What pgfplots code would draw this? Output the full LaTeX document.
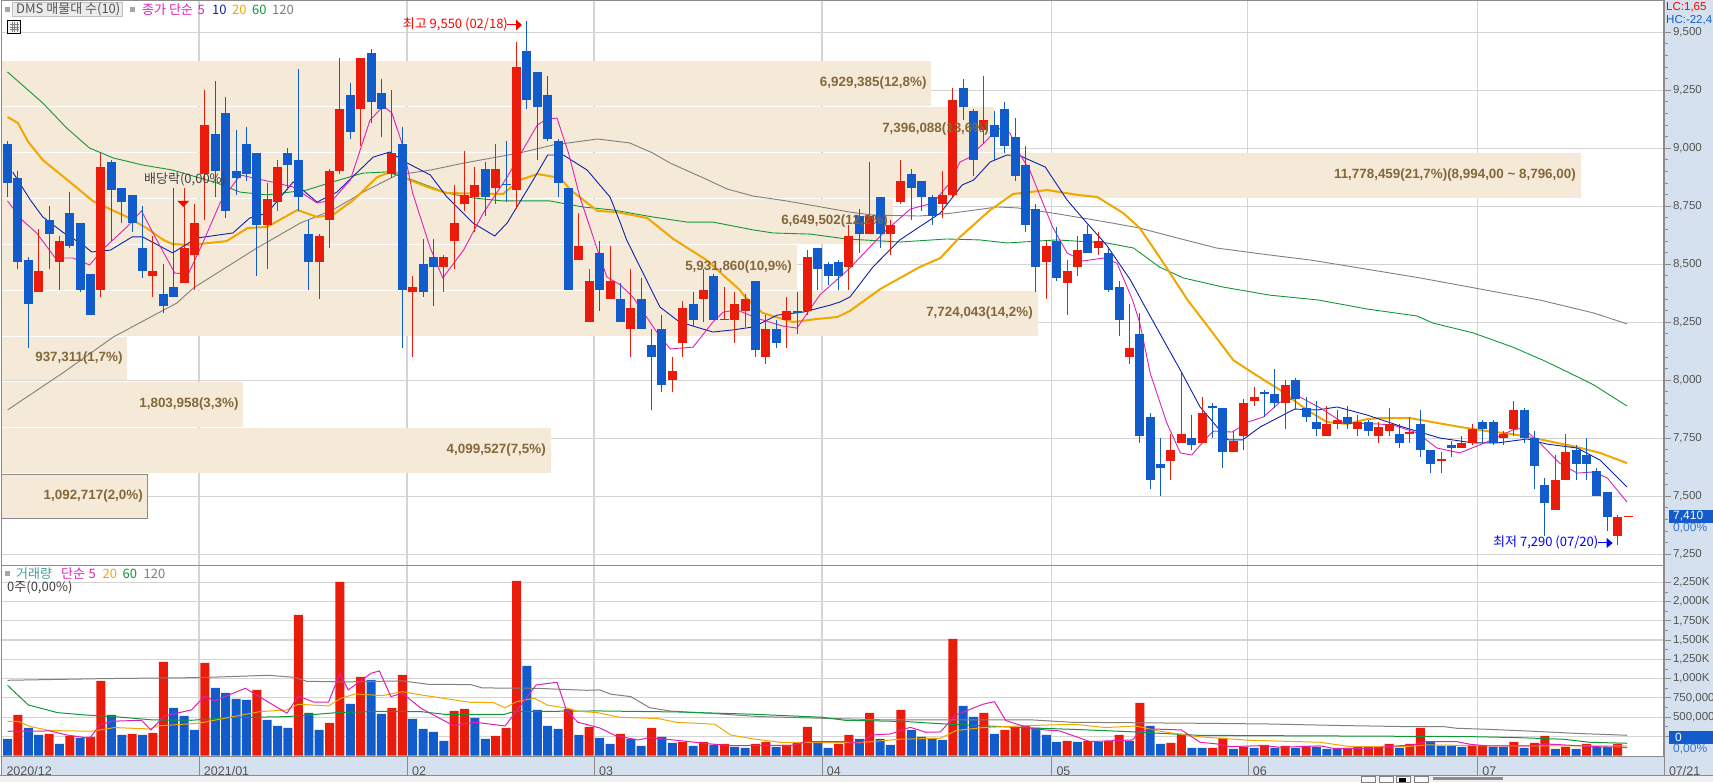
\documentclass[border=0pt]{standalone}
\usepackage{pgfplots}
\pgfplotsset{compat=1.18}
\usepackage{pgfplotstable}
\usepackage{fontspec}
\setmainfont{Liberation Sans}
\newfontfamily\kr{Noto Sans CJK KR}
\definecolor{cred}{HTML}{E91B0A}
\definecolor{cblue}{HTML}{125BCB}
\definecolor{band}{HTML}{F5E9D8}
\definecolor{bandtx}{HTML}{85683A}
\definecolor{gridc}{HTML}{D4D4D4}
\definecolor{panel}{HTML}{D6E1EF}
\definecolor{axisc}{HTML}{8C8C8C}
\definecolor{lbl}{HTML}{555555}
\definecolor{mag}{HTML}{E020B8}
\definecolor{navy}{HTML}{1022A8}
\definecolor{ora}{HTML}{F0A800}
\definecolor{grn}{HTML}{109838}
\definecolor{gry}{HTML}{808080}
\pgfplotstableread{
i top bot high low
3 8470 8380 8650 8380
5 8600 8510 8620 8390
9 8920 8390 8980 8360
14 8470 8450 8620 8360
17 8570 8420 8830 8420
18 8680 8540 8760 8390
19 9100 8890 9250 8690
25 8780 8670 8850 8480
26 8920 8770 8950 8730
30 8620 8510 8630 8350
31 8900 8690 8910 8570
32 9170 8900 9390 8890
34 9390 9170 9390 9010
37 8980 8890 9250 8870
39 8400 8380 8450 8100
42 8530 8490 8540 8380
43 8680 8600 8840 8480
44 8800 8760 8990 8730
45 8840 8790 8920 8640
47 8910 8830 9020 8760
49 9350 8820 9460 8740
55 8580 8520 8720 8520
56 8430 8250 8480 8250
58 8430 8350 8580 8350
60 8310 8220 8480 8100
64 8040 8000 8100 7950
65 8310 8160 8340 8100
67 8390 8350 8480 8250
69 8265 8260 8400 8260
70 8330 8260 8380 8160
71 8350 8300 8370 8230
73 8220 8100 8280 8070
75 8300 8260 8360 8140
77 8530 8300 8560 8280
81 8620 8490 8670 8390
83 8710 8630 8940 8630
85 8670 8630 8690 8540
86 8860 8770 8950 8760
90 8800 8760 8900 8700
91 9210 8800 9260 8790
94 9120 9080 9310 9020
100 8580 8510 8600 8350
102 8470 8420 8520 8280
103 8560 8490 8620 8450
105 8600 8570 8640 8540
108 8140 8100 8330 8070
112 7700 7650 7770 7570
113 7770 7730 8030 7730
115 7860 7730 7930 7730
118 7740 7690 7780 7690
119 7900 7760 7920 7700
120 7930 7910 7970 7890
123 7980 7900 8000 7790
127 7810 7760 7890 7760
128 7830 7810 7870 7790
130 7820 7790 7850 7760
132 7800 7760 7820 7730
133 7810 7780 7880 7760
135 7775 7770 7840 7730
138 7660 7650 7690 7600
140 7730 7710 7760 7710
141 7790 7730 7810 7720
144 7770 7750 7780 7720
145 7870 7790 7910 7760
149 7570 7440 7680 7440
150 7690 7570 7770 7570
155 7410 7330 7420 7290
156 7415 7410 7415 7410
}\redc
\pgfplotstableread{
i top bot high low
0 9020 8850 9030 8790
1 8870 8510 8900 8480
2 8520 8330 8530 8140
4 8690 8630 8750 8480
6 8720 8580 8810 8570
7 8680 8390 8680 8380
8 8460 8280 8460 8280
10 8940 8820 8950 8600
11 8830 8770 8830 8680
12 8800 8680 8800 8640
13 8570 8470 8750 8440
15 8370 8320 8500 8290
16 8400 8360 8830 8360
20 9060 8900 9290 8790
21 9150 8730 9220 8700
22 8900 8870 9080 8800
23 9020 8890 9090 8860
24 8980 8670 8980 8450
27 8980 8930 9000 8820
28 8950 8790 9340 8730
29 8630 8510 8690 8390
33 9230 9070 9280 9040
35 9410 9200 9430 9110
36 9240 9170 9300 9050
38 9020 8390 9090 8140
40 8500 8380 8610 8360
41 8530 8490 8610 8320
46 8910 8790 8940 8710
48 8845 8840 9030 8770
50 9420 9210 9550 9170
51 9330 9180 9330 8950
52 9230 9040 9310 9030
53 9030 8850 9040 8790
54 8830 8390 8830 8390
57 8550 8390 8600 8300
59 8350 8250 8420 8250
61 8350 8220 8440 8220
62 8150 8100 8220 7870
63 8220 7980 8280 7950
66 8330 8260 8380 8230
68 8450 8260 8460 8260
72 8430 8130 8430 8100
74 8220 8160 8260 8140
76 8300 8290 8380 8200
78 8570 8480 8570 8390
79 8500 8450 8510 8410
80 8510 8450 8520 8390
82 8710 8630 8740 8550
84 8790 8630 8790 8570
87 8890 8830 8910 8690
88 8860 8790 8860 8730
89 8790 8710 8800 8670
92 9260 9180 9300 9120
93 9160 8950 9170 8880
95 9100 9050 9160 8950
96 9170 9010 9200 8980
97 9050 8880 9130 8860
98 8930 8670 9010 8640
99 8740 8490 8760 8380
101 8600 8440 8660 8430
104 8630 8550 8670 8550
106 8550 8390 8570 8380
107 8400 8260 8430 8190
109 8200 7760 8290 7730
110 7840 7570 7860 7530
111 7640 7620 7750 7500
114 7750 7720 7850 7700
116 7890 7880 7900 7750
117 7880 7690 7880 7620
121 7950 7940 7960 7840
122 7940 7900 8050 7880
124 8000 7920 8010 7870
125 7880 7840 7930 7820
126 7820 7790 7910 7760
129 7840 7810 7890 7790
131 7820 7780 7830 7760
134 7770 7730 7810 7710
136 7810 7700 7870 7670
137 7700 7640 7700 7600
139 7720 7710 7740 7670
142 7820 7790 7830 7730
143 7820 7730 7830 7720
146 7870 7750 7880 7730
147 7750 7630 7780 7530
148 7550 7470 7580 7330
151 7700 7640 7720 7570
152 7680 7640 7750 7570
153 7610 7500 7620 7500
154 7520 7410 7520 7350
}\bluec
\pgfplotstableread[row sep=\\]{
i v\\ 1 528\\ 4 281\\ 6 255\\ 8 242\\ 9 970\\ 12 281\\ 14 294\\ 15 1216\\ 19 1203\\ 24 853\\ 28 1827\\ 31 424\\ 32 2255\\ 34 1022\\ 37 619\\ 38 1048\\ 43 580\\ 44 606\\ 47 255\\ 48 359\\ 49 2268\\ 54 606\\ 56 372\\ 59 281\\ 62 359\\ 65 177\\ 67 177\\ 69 152\\ 72 152\\ 73 177\\ 75 139\\ 76 165\\ 77 372\\ 80 152\\ 81 268\\ 83 554\\ 86 593\\ 91 1515\\ 94 554\\ 96 333\\ 97 372\\ 98 385\\ 102 190\\ 104 190\\ 106 190\\ 107 268\\ 109 684\\ 112 165\\ 113 281\\ 116 100\\ 117 229\\ 119 113\\ 121 139\\ 123 126\\ 125 126\\ 129 87\\ 130 113\\ 131 113\\ 132 113\\ 133 152\\ 135 152\\ 136 359\\ 141 139\\ 142 126\\ 145 177\\ 147 165\\ 148 255\\ 150 113\\ 152 152\\ 155 152\\
}\redv
\pgfplotstableread[row sep=\\]{
i v\\ 0 216\\ 2 359\\ 3 268\\ 5 152\\ 7 229\\ 10 528\\ 11 268\\ 13 268\\ 16 619\\ 17 515\\ 18 333\\ 20 879\\ 21 814\\ 22 736\\ 23 723\\ 25 463\\ 26 385\\ 27 359\\ 29 554\\ 30 333\\ 33 671\\ 35 983\\ 36 541\\ 39 476\\ 40 346\\ 41 307\\ 42 190\\ 45 489\\ 46 216\\ 50 1165\\ 51 593\\ 52 385\\ 53 346\\ 55 268\\ 57 229\\ 58 152\\ 60 216\\ 61 126\\ 63 242\\ 64 165\\ 66 126\\ 68 139\\ 70 113\\ 71 100\\ 74 113\\ 78 177\\ 79 100\\ 82 216\\ 84 216\\ 85 139\\ 87 333\\ 88 242\\ 89 229\\ 90 203\\ 92 645\\ 93 502\\ 95 281\\ 99 359\\ 100 268\\ 101 177\\ 103 177\\ 105 177\\ 108 190\\ 110 385\\ 111 152\\ 114 100\\ 115 100\\ 118 87\\ 120 100\\ 122 100\\ 124 100\\ 126 113\\ 127 87\\ 128 87\\ 134 100\\ 137 177\\ 138 126\\ 139 126\\ 140 113\\ 143 113\\ 144 113\\ 146 100\\ 149 87\\ 151 87\\ 153 113\\ 154 113\\
}\bluev
\pgfplotsset{
  body/.style={draw=none,mark=none,forget plot,error bars/.cd,y dir=plus,y explicit,error mark=none,error bar style={line width=9pt,color=#1,line cap=butt}},
  wick/.style={draw=none,mark=none,forget plot,error bars/.cd,y dir=plus,y explicit,error mark=none,error bar style={line width=1pt,color=#1,line cap=butt}},
  vb/.style={ybar,bar width=9pt,bar shift=0pt,draw=none,fill=#1,forget plot},
}
\newcommand\bd[3]{\addplot[fill=band,draw=none,forget plot] coordinates {(-0.578,#1)(#3,#1)(#3,#2)(-0.578,#2)} -- cycle;}
\newcommand\T[4][west]{\node[anchor=#1,inner sep=0pt,#3] at (#2) {#4};}
\begin{document}
\begin{tikzpicture}[x=1pt,y=1pt]
\path[use as bounding box] (0,0) rectangle (1713,782);
\fill[white] (0,0) rectangle (1713,782);
\fill[panel] (1664,7) rectangle (1713,782);
\fill[panel] (1.5,7) rectangle (1713,25.5);
\fill[black!6] (0,0) rectangle (1713,6.5);
% PRICE
\begin{axis}[name=price,anchor=south west,at={(1.5pt,216.5pt)},scale only axis,width=1662.5pt,height=565pt,
 xmin=-0.578,xmax=159.46,ymin=7201.7,ymax=9637,
 axis line style={color=axisc,line width=1.2pt},
 xtick={18.43,38.46,56.46,78.4,100.5,119.4,141.5},xticklabels={},xtick style={draw=none},
 ytick={7250,7500,...,9500},ytick pos=right,yticklabel pos=right,tick align=outside,
 minor y tick num=4,major tick length=7pt,minor tick length=3.5pt,
 ytick style={color=axisc,line width=0.8pt},
 grid=major,major grid style={color=gridc,line width=1.2pt},
 /pgf/number format/.cd,1000 sep={,},assume math mode=true,
 /pgfplots/.cd,
 yticklabel style={font=\fontsize{11.5}{12}\selectfont,text=lbl,xshift=-1.5pt},
]
\bd{9376}{9184}{88.9}
\bd{9180}{8984}{95.0}
\bd{8980}{8787}{151.5}
\bd{8781}{8589}{85.2}
\bd{8585}{8389}{76.0}
\bd{8385}{8192}{99.2}
\bd{8186}{8001}{11.5}
\bd{7993}{7799}{22.7}
\bd{7794}{7602}{52.3}
\addplot[fill=band,draw=axisc,line width=1pt,forget plot] coordinates {(-0.578,7593)(13.5,7593)(13.5,7405)(-0.578,7405)} -- cycle;
% MA 120
\addplot[gry,line width=.9pt] coordinates {(0,7872)(5.3,8031)(10.2,8187)(16.3,8333)(17.9,8398)(24,8570)(28.2,8678)(31.3,8734)(34.6,8820)(37.5,8885)(40.7,8906)(43.9,8936)(49.3,8980)(52.5,9014)(56.8,9040)(59.9,9023)(62.1,8980)(63.8,8936)(67,8872)(69.3,8824)(71.8,8794)(75,8773)(81.1,8725)(83.3,8712)(87.8,8708)(91,8721)(95.3,8747)(97.2,8743)(100.6,8721)(105.8,8682)(109,8656)(112.2,8618)(116.4,8570)(121.5,8540)(125.5,8518)(136,8441)(147.5,8346)(152.7,8290)(155.9,8243)};
% MA 60
\addplot[grn,line width=.9pt] coordinates {(0,9329)(3.4,9195)(5.7,9087)(7.9,9001)(10.2,8958)(13,8928)(15.9,8906)(20.2,8850)(22.4,8811)(25,8799)(28.8,8820)(31.3,8855)(34.2,8893)(36.5,8898)(39,8863)(42.3,8807)(44.8,8786)(47.7,8773)(52.2,8773)(55.4,8747)(58.3,8734)(62.1,8704)(65.4,8682)(67.9,8682)(71.8,8648)(73.7,8635)(77.3,8630)(80.8,8609)(85.9,8596)(90.4,8609)(93.6,8605)(96.2,8592)(101,8605)(105.8,8592)(108.4,8570)(110.9,8488)(113.2,8441)(117,8402)(121.5,8367)(126.2,8346)(130.9,8307)(135.7,8277)(137.2,8247)(141.1,8204)(144.9,8143)(147.8,8087)(150.4,8031)(152.7,7980)(155.9,7889)};
% MA 20
\addplot[ora,line width=2pt] coordinates {(0,9135)(1,9109)(2,9027)(3.4,8949)(6,8855)(8.2,8773)(11.5,8704)(13.4,8656)(15,8605)(15.9,8587)(17.6,8583)(21.1,8600)(23.1,8656)(25,8661)(27.9,8734)(29.8,8704)(31.3,8712)(33.3,8777)(35.6,8876)(37.1,8902)(38.7,8863)(40.7,8829)(42.3,8807)(47.7,8803)(49.3,8863)(51,8889)(53.2,8872)(54.2,8820)(56.8,8730)(58.7,8725)(61.6,8699)(64.1,8609)(67.3,8518)(70.5,8389)(71,8359)(72.7,8290)(75.6,8251)(77.9,8264)(79.9,8273)(81.1,8299)(84,8393)(87.8,8488)(89.8,8527)(91.7,8618)(94.6,8734)(96.8,8803)(100.1,8820)(103,8799)(104.9,8790)(107.4,8721)(109,8656)(110.9,8531)(113.6,8346)(115.8,8217)(118,8087)(119.9,8031)(122.5,7958)(125.1,7872)(127,7820)(129,7812)(130.9,7833)(132.1,7837)(135,7837)(139.8,7799)(142.4,7781)(144.9,7768)(147.8,7743)(151.1,7712)(153.3,7687)(155.9,7643)};
% MA 10
\addplot[navy,line width=.9pt] coordinates {(0.5,8898)(2.2,8777)(3.4,8704)(5.3,8639)(7.3,8583)(8.1,8553)(9.9,8561)(12,8618)(13,8618)(15.9,8549)(18.2,8613)(21.7,8635)(23.3,8699)(25,8721)(27.5,8855)(29.8,8768)(31.7,8811)(33.6,8893)(35.2,8962)(36.8,8984)(38.5,8936)(40.7,8885)(42.3,8790)(44.8,8678)(46.9,8622)(48.1,8678)(50.6,8863)(52,8971)(53.5,8971)(55.8,8906)(58,8790)(59,8678)(59.6,8605)(62.8,8316)(64.7,8251)(67.9,8208)(69.8,8217)(71.8,8230)(74.1,8281)(76.6,8294)(79.2,8324)(80.1,8337)(81.1,8359)(83.3,8488)(85.9,8605)(89.8,8721)(91.9,8842)(93,8863)(94.6,8941)(96.2,8971)(97.5,8967)(99.9,8919)(102,8777)(103.9,8678)(105.8,8583)(108.1,8432)(109.3,8333)(110.9,8204)(112.9,8044)(114.8,7885)(117.5,7743)(118.9,7743)(120.6,7799)(123.9,7876)(126.1,7872)(128,7885)(130.9,7850)(134.3,7799)(137.9,7751)(141.1,7730)(143.4,7730)(146.3,7747)(148.2,7725)(151.1,7708)(153.3,7656)(155.9,7540)};
% MA 5
\addplot[mag,line width=.9pt] coordinates {(0,8773)(1.4,8691)(2.8,8635)(4.6,8527)(6.3,8527)(7.9,8497)(9.4,8574)(11.5,8661)(12.9,8730)(14,8635)(16.1,8462)(17.4,8458)(18.8,8592)(20.5,8768)(22.4,8885)(25.9,8850)(27.5,8833)(29.8,8764)(31.3,8777)(33,8863)(34.9,9122)(36.2,9182)(37,9152)(38.1,9005)(39,8807)(40.7,8570)(41.9,8441)(43.9,8561)(45.8,8721)(48.1,8876)(49.6,8992)(51,9100)(51.9,9126)(52.9,9130)(54,8980)(55.1,8790)(56.8,8561)(57.7,8445)(59,8411)(60.2,8359)(62.5,8208)(63.8,8135)(66,8143)(67.9,8251)(68.9,8294)(70.2,8303)(72.4,8264)(74.6,8234)(76,8225)(78.2,8368)(81.1,8484)(84.3,8635)(86.9,8738)(89.1,8764)(90.7,8850)(91.7,8941)(92.5,8958)(94.3,9036)(95.3,9087)(96.5,9066)(97.2,8992)(98.4,8906)(100.6,8661)(102,8549)(103.5,8514)(105.5,8527)(106.8,8505)(108.3,8346)(109,8247)(110,8031)(111.6,7816)(112.9,7687)(114,7678)(115.5,7755)(116.1,7781)(117.9,7777)(119.4,7820)(120.9,7842)(122.5,7906)(124.4,7928)(126.4,7880)(128.6,7816)(131.8,7812)(133.4,7807)(135.7,7773)(137.6,7708)(139.8,7687)(142.4,7734)(144.9,7786)(145.9,7794)(147.5,7730)(149.4,7643)(151.1,7600)(152.7,7605)(154,7579)(155.9,7475)};
% candles
\addplot[wick=cred] table[x=i,y=low,y error plus expr=\thisrow{high}-\thisrow{low}] {\redc};
\addplot[wick=cblue] table[x=i,y=low,y error plus expr=\thisrow{high}-\thisrow{low}] {\bluec};
\addplot[body=cred] table[x=i,y=bot,y error plus expr=\thisrow{top}-\thisrow{bot}] {\redc};
\addplot[body=cblue] table[x=i,y=bot,y error plus expr=\thisrow{top}-\thisrow{bot}] {\bluec};
\end{axis}
% VOLUME
\begin{axis}[name=vol,anchor=south west,at={(1.5pt,25.3pt)},scale only axis,width=1662.5pt,height=191.2pt,
 xmin=-0.578,xmax=159.46,ymin=-14.3,ymax=2468.8,
 axis line style={color=axisc,line width=1.2pt},
 xtick={-0.578,18.43,38.46,56.46,78.4,100.5,119.4,141.5,159.46},
 xticklabels={2020/12,2021/01,02,03,04,05,06,07,07/21},
 xtick style={draw=none},
 xticklabel style={anchor=west,font=\fontsize{12.5}{13}\selectfont,text=lbl,yshift=-7pt,xshift=1.5pt},
 ytick={250,500,...,2250},
 yticklabels={{},{500,000},{750,000},{1,000K},{1,250K},{1,500K},{1,750K},{2,000K},{2,250K}},
 ytick pos=right,yticklabel pos=right,tick align=outside,
 minor y tick num=1,major tick length=7pt,minor tick length=3.5pt,
 ytick style={color=axisc,line width=0.8pt},
 grid=major,major grid style={color=gridc,line width=1.2pt},
 yticklabel style={font=\fontsize{11.5}{12}\selectfont,text=lbl,xshift=-1.5pt},
]
\addplot[vb=cred] table[x=i,y=v] {\redv};
\addplot[vb=cblue] table[x=i,y=v] {\bluev};
\addplot[gry,line width=1pt] coordinates {(0,978)(9.3,1000)(18.6,1013)(25.1,1043)(27.6,1017)(28.8,965)(32.4,957)(38,970)(40.5,926)(44.6,922)(45.7,879)(50.9,874)(55.7,848)(57,853)(58.1,797)(60,766)(61.8,623)(63.7,580)(68.1,545)(72.5,506)(78.4,485)(84.7,463)(98.7,463)(102.4,433)(114.5,420)(121.2,411)(128.6,390)(134.4,377)(138.2,377)(139.5,355)(142.4,342)(147.5,312)(151.4,286)(153.3,277)(155.9,264)};
\addplot[grn,line width=1pt] coordinates {(0,913)(2,658)(4.8,558)(7.4,528)(10.3,506)(14,463)(17.7,459)(21.4,493)(26.9,506)(31.7,558)(36.1,576)(39.8,571)(42,537)(47.9,537)(48.7,571)(56.8,580)(64.4,567)(71.8,537)(78.4,498)(80.6,459)(86.5,442)(90.2,411)(97.6,364)(103.1,338)(108.6,307)(114.5,264)(119.3,260)(140.5,247)(145.3,234)(149.8,212)(152.3,173)(155.9,160)};
\addplot[ora,line width=1pt] coordinates {(0,446)(1.1,442)(2.2,377)(4.1,325)(8.1,316)(10.3,364)(13.7,346)(14.4,385)(18.4,420)(21.4,498)(24.3,571)(26.9,593)(28,667)(30.9,645)(32.1,745)(33.5,801)(36.1,779)(38,831)(39.8,788)(44.5,693)(46.8,688)(47.9,619)(49,701)(50.7,745)(52,654)(53.8,619)(54.9,576)(56.8,558)(58.9,498)(62.6,481)(64.4,433)(68.1,407)(69.6,268)(71.8,216)(74.4,173)(79.1,169)(82.1,169)(85.8,212)(89.8,225)(91.3,325)(93.9,364)(98.3,390)(102.7,407)(105.7,364)(108.6,385)(110.8,320)(114.5,247)(115.4,238)(119.6,199)(126.4,173)(129.2,117)(134.7,117)(136.6,139)(143.7,126)(155.9,126)};
\addplot[mag,line width=1pt] coordinates {(0,316)(4.1,320)(5.7,268)(7.9,225)(8.9,398)(10,446)(12.9,459)(13.8,333)(15.1,515)(17.7,593)(19,775)(19.9,710)(22.9,874)(26.9,550)(28,775)(29.5,693)(30.9,693)(32,1069)(32.8,853)(35,1069)(35.8,1100)(36.9,766)(38,810)(39.8,615)(42.9,390)(45,433)(47.9,385)(50.9,918)(52.9,952)(53.8,593)(54.9,433)(57,360)(58.5,260)(60.7,203)(61.8,234)(64.4,199)(67.7,151)(69.6,130)(75.5,134)(77,182)(80.6,182)(82.1,160)(83.2,268)(85,281)(86.9,368)(88.4,303)(89.8,307)(91.3,528)(93.9,667)(95,701)(96.1,455)(97.6,390)(98.7,346)(101.3,320)(104.2,182)(108.3,203)(109,312)(110.1,346)(113,333)(114.8,173)(116.4,152)(117.7,117)(120.9,130)(122.5,108)(126.4,126)(127.6,95)(131.2,91)(132.8,117)(135.3,139)(136.6,182)(139.5,182)(140.8,147)(142.4,126)(146.9,126)(147.9,152)(149.8,139)(152.7,117)(155.9,104)};
\end{axis}
% bottom strip separators and frame
\foreach \x in {199,407,594,822,1051,1248,1477,1664}{\draw[axisc,line width=1pt] (\x,7) -- (\x,25.3);}
\draw[axisc,line width=1.2pt] (0,6.7) -- (1713,6.7);
\draw[axisc,line width=1pt] (1.5,7) -- (1.5,25.3);
% band labels
\tikzset{bl/.style={font=\fontsize{13.4}{14}\selectfont\bfseries,text=bandtx}}
\T[east]{926.7,699}{bl}{6,929,385(12,8\%)}
\T[east]{989,653}{bl}{7,396,088(13,6\%)}
\T[east]{1576,606.7}{bl}{11,778,459(21,7\%)(8,994,00 \textasciitilde{} 8,796,00)}
\T[east]{888,561}{bl}{6,649,502(12,2\%)}
\T[east]{792,514.7}{bl}{5,931,860(10,9\%)}
\T[east]{1033,469}{bl}{7,724,043(14,2\%)}
\T[east]{122.7,424}{bl}{937,311(1,7\%)}
\T[east]{238.7,377.7}{bl}{1,803,958(3,3\%)}
\T[east]{546,332}{bl}{4,099,527(7,5\%)}
\T[east]{143,285.7}{bl}{1,092,717(2,0\%)}
% legends
\tikzset{lg/.style={font=\fontsize{13}{14}\kr\selectfont}}
\fill[gry!70] (5,770) rectangle (10,775);
\draw[black!25,fill=black!8,line width=1pt] (12.5,765.5) rectangle (122.5,779);
\T{16,772.5}{lg,text=lbl}{DMS 매물대 수(10)}
\fill[gry!70] (130,770) rectangle (135,775);
\T{142,772.5}{lg,text=mag}{종가 단순}
\T{197.5,772.5}{lg,text=mag}{5}
\T{212,772.5}{lg,text=navy}{10}
\T{232,772.5}{lg,text=ora}{20}
\T{252,772.5}{lg,text=grn}{60}
\T{272,772.5}{lg,text=gry}{120}
\draw[black,line width=1pt,fill=black!5] (7.5,748.5) rectangle (20.5,761.5);
\draw[gry,line width=.6pt] (9.5,757.5)--(18.5,757.5) (9.5,755)--(18.5,755) (9.5,752.5)--(18.5,752.5) (12,750)--(12,760) (14.5,750)--(14.5,760) (17,750)--(17,760);
% volume legend
\fill[gry!70] (5,205.5) rectangle (10,210.5);
\T{16,208}{lg,text=teal!75}{거래량}
\T{61,208}{lg,text=mag}{단순}
\T{88.5,208}{lg,text=mag}{5}
\T{102.5,208}{lg,text=ora}{20}
\T{122.5,208}{lg,text=grn}{60}
\T{143.5,208}{lg,text=gry}{120}
\T{7,194.3}{lg,text=black!75}{0주(0,00\%)}
% annotations
\T{402.7,758}{lg,text=red}{최고 9,550 (02/18)}
\draw[red,line width=1pt] (507,757) -- (517,757);
\fill[red] (516,762.5) -- (522,757) -- (516,751.5) -- cycle;
\T{144,603}{lg,text=black!75}{배당락(0,00\%)}
\fill[red] (177.5,581) -- (189,581) -- (183.2,575) -- cycle;
\T{1493,239.3}{lg,text=blue}{최저 7,290 (07/20)}
\draw[blue,line width=1pt] (1598,239) -- (1608,239);
\fill[blue] (1606.7,244) -- (1612.7,239) -- (1606.7,234) -- cycle;
% right boxes
\fill[cblue] (1669,259.3) rectangle (1713,272);
\T{1673,265.7}{font=\fontsize{12}{13}\selectfont,text=white}{7,410}
\T{1673,253.7}{font=\fontsize{12}{13}\selectfont,text=cblue!85}{0,00\%}
\fill[cblue] (1669,38) rectangle (1713,51);
\T{1675,44.5}{font=\fontsize{12}{13}\selectfont,text=white}{0}
\T{1673,32.7}{font=\fontsize{12}{13}\selectfont,text=cblue!85}{0,00\%}
\T{1666,774.5}{font=\fontsize{11.5}{13}\selectfont,text=red}{LC:1,65}
\T{1666,762}{font=\fontsize{11.5}{13}\selectfont,text=cblue}{HC:-22,4}
% toolbar fragments
\foreach \x in {1361,1379,1396,1414}{\draw[black!50,fill=black!3,line width=.8pt] (\x,0) rectangle (\x+14,6);}
\fill[black] (1399,0) rectangle (1406,4);
\fill[black!45] (1433,2) rectangle (1503,5);
\end{tikzpicture}
\end{document}
